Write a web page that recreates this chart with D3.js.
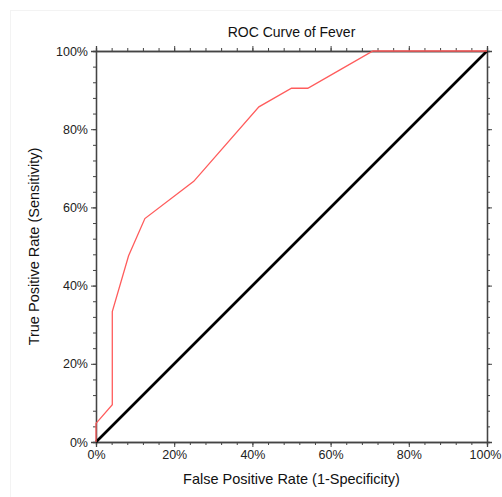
<!DOCTYPE html>
<html><head><meta charset="utf-8">
<script src="https://cdn.jsdelivr.net/npm/d3@7"></script>
<style>body{margin:0;background:#fff;}svg{display:block;font-family:"Liberation Sans",Arial,sans-serif;}</style>
</head><body><svg id="c" width="502" height="497"></svg>
<script>
const fpr = [0, 0, 1/24, 1/24, 2/24, 3/24, 6/24, 10/24, 12/24, 13/24, 15/24, 17/24, 1];
const tpr = [0, 1/21, 2/21, 7/21, 10/21, 12/21, 14/21, 18/21, 19/21, 19/21, 20/21, 1, 1];
const refLine = [0, 1];
const majorTicks = [0, 0.2, 0.4, 0.6, 0.8, 1.0];
const minorTicks = d3.range(0, 26).map(i => i * 0.04);
const title = "ROC Curve of Fever";
const xTitle = "False Positive Rate (1-Specificity)";
const yTitle = "True Positive Rate (Sensitivity)";

const svg = d3.select("#c");
const L = 96, R = 487, T = 51, B = 442;
const x = d3.scaleLinear().domain([0, 1]).range([L, R]);
const y = d3.scaleLinear().domain([0, 1]).range([B, T]);
const fmt = d => Math.round(d * 100) + "%";

svg.append("rect").attr("x", 10.5).attr("y", 10.5).attr("width", 520).attr("height", 520)
  .attr("fill", "none").attr("stroke", "#f3f3f3");

const axColor = "#444";
function styleAxis(g) {
  g.selectAll("path.domain").attr("stroke", axColor).attr("stroke-width", 1.3);
  g.selectAll(".tick line").attr("stroke", axColor);
  g.selectAll("text").attr("fill", "#222").attr("font-size", 12.5);
}
[[d3.axisBottom(x), `translate(0,${B})`], [d3.axisTop(x), `translate(0,${T})`],
 [d3.axisLeft(y), `translate(${L},0)`], [d3.axisRight(y), `translate(${R},0)`]].forEach(([ax, tr]) => {
  const g = svg.append("g").attr("transform", tr)
    .call(ax.tickValues(minorTicks).tickSize(3).tickFormat(""));
  styleAxis(g);
});
const gb = svg.append("g").attr("transform", `translate(0,${B})`)
  .call(d3.axisBottom(x).tickValues(majorTicks).tickSize(5).tickPadding(3).tickFormat(fmt));
styleAxis(gb);
gb.selectAll(".tick text").filter(d => d === 1).attr("text-anchor", "end").attr("x", 14);
const gt = svg.append("g").attr("transform", `translate(0,${T})`)
  .call(d3.axisTop(x).tickValues(majorTicks).tickSize(5).tickFormat(""));
styleAxis(gt);
const gl = svg.append("g").attr("transform", `translate(${L},0)`)
  .call(d3.axisLeft(y).tickValues(majorTicks).tickSize(5).tickPadding(3).tickFormat(fmt));
styleAxis(gl);
const gr = svg.append("g").attr("transform", `translate(${R},0)`)
  .call(d3.axisRight(y).tickValues(majorTicks).tickSize(5).tickFormat(""));
styleAxis(gr);

svg.append("line")
  .attr("x1", x(refLine[0])).attr("y1", y(refLine[0]))
  .attr("x2", x(refLine[1])).attr("y2", y(refLine[1]))
  .attr("stroke", "#000").attr("stroke-width", 2.6);

const pts = fpr.map((f, i) => [f, tpr[i]]);
svg.append("path").datum(pts)
  .attr("d", d3.line().x(d => x(d[0])).y(d => y(d[1])))
  .attr("fill", "none").attr("stroke", "#ff5c5c").attr("stroke-width", 1.3);

svg.append("text").attr("x", (L + R) / 2).attr("y", 37).attr("text-anchor", "middle")
  .attr("font-size", 14).attr("fill", "#111").text(title);
svg.append("text").attr("x", (L + R) / 2).attr("y", 484).attr("text-anchor", "middle")
  .attr("font-size", 14.5).attr("fill", "#111").text(xTitle);
svg.append("text").attr("transform", `translate(39,${(T + B) / 2}) rotate(-90)`).attr("text-anchor", "middle")
  .attr("font-size", 14.5).attr("fill", "#111").text(yTitle);
</script></body></html>
